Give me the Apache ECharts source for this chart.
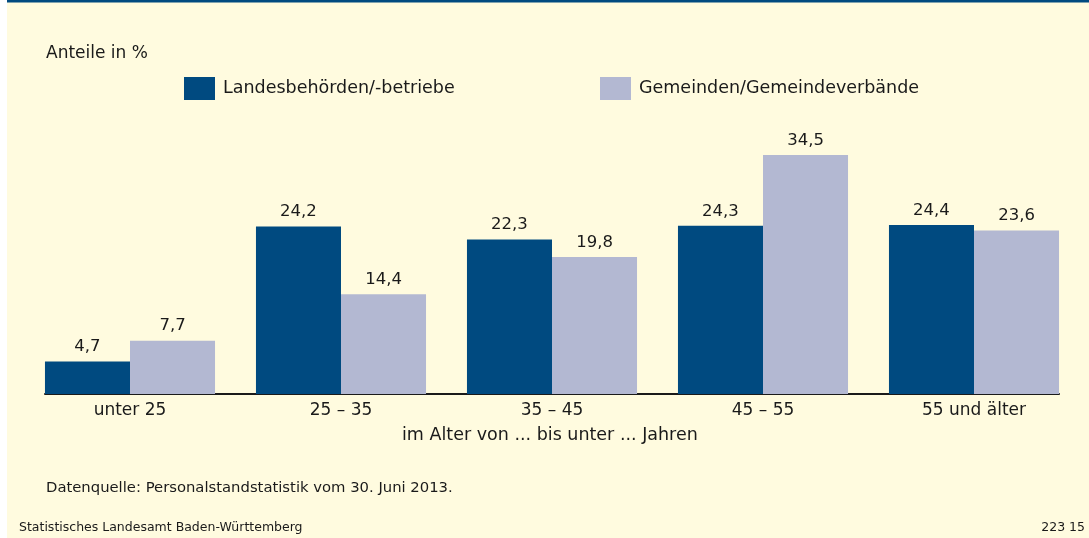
<!DOCTYPE html>
<html>
<head>
<meta charset="utf-8">
<script src="https://cdn.jsdelivr.net/npm/echarts@6/dist/echarts.min.js"></script>
<style>
  html, body { margin: 0; padding: 0; background: #ffffff; }
  #main { width: 1089px; height: 538px; }
</style>
</head>
<body>
<div id="main"></div>
<script>
// Daten
var categories = ['unter 25', '25 – 35', '35 – 45', '45 – 55', '55 und älter'];
var landValues = [4.7, 24.2, 22.3, 24.3, 24.4];
var gemValues = [7.7, 14.4, 19.8, 34.5, 23.6];
var seriesNames = ['Landesbehörden/-betriebe', 'Gemeinden/Gemeindeverbände'];

var fontFamily = '"DejaVu Sans", Verdana, sans-serif';
var textColor = '#1a1a1a';

function fmt(p) { return String(p.value).replace('.', ','); }

var myChart = echarts.init(document.getElementById('main'));
var option = {
  backgroundColor: '#ffffff',
  animation: false,
  graphic: [
    { type: 'rect', left: 7, top: 0, shape: { width: 1082, height: 538 }, style: { fill: '#fffbdf' }, z: -10 },
    { type: 'rect', left: 7, top: 0, shape: { width: 1082, height: 2.5 }, style: { fill: '#004a80' }, z: -9 }
  ],
  title: [
    { text: 'Anteile in %', left: 46, top: 45, padding: 0, textStyle: { fontFamily: fontFamily, fontSize: 17, fontWeight: 'normal', color: textColor } },
    { text: 'im Alter von ... bis unter ... Jahren', left: 402, top: 426, padding: 0, textStyle: { fontFamily: fontFamily, fontSize: 17.5, fontWeight: 'normal', color: textColor } },
    { text: 'Datenquelle: Personalstandstatistik vom 30. Juni 2013.', left: 46, top: 481, padding: 0, textStyle: { fontFamily: fontFamily, fontSize: 14.8, fontWeight: 'normal', color: textColor } },
    { text: 'Statistisches Landesamt Baden-Württemberg', left: 19, top: 521, padding: 0, textStyle: { fontFamily: fontFamily, fontSize: 12.5, fontWeight: 'normal', color: textColor } },
    { text: '223 15', right: 4, top: 521, padding: 0, textStyle: { fontFamily: fontFamily, fontSize: 12.5, fontWeight: 'normal', color: textColor } }
  ],
  legend: [
    {
      data: [seriesNames[0]], left: 184, top: 77, padding: 0, icon: 'rect', itemWidth: 31, itemHeight: 23, itemGap: 8,
      textStyle: { fontFamily: fontFamily, fontSize: 17.5, color: textColor, padding: [0, 0, 0, 3] }
    },
    {
      data: [seriesNames[1]], left: 600, top: 77, padding: 0, icon: 'rect', itemWidth: 31, itemHeight: 23, itemGap: 8,
      textStyle: { fontFamily: fontFamily, fontSize: 17.5, color: textColor, padding: [0, 0, 0, 3] }
    }
  ],
  grid: [
    { left: 24.5, right: 9.5, top: 117, bottom: 144 },
    { left: 45, right: 30, top: 117, bottom: 144 }
  ],
  xAxis: [
    {
      type: 'category', gridIndex: 0, data: categories,
      axisLine: { show: false }, axisTick: { show: false },
      axisLabel: { fontFamily: fontFamily, fontSize: 17, color: textColor, margin: 8 }
    },
    {
      type: 'value', gridIndex: 1, min: 0, max: 1,
      axisLine: { show: true, lineStyle: { color: '#1a1a1a', width: 2 } },
      axisTick: { show: false }, axisLabel: { show: false }, splitLine: { show: false }
    }
  ],
  yAxis: [
    { type: 'value', gridIndex: 0, min: 0, max: 40, show: false },
    { type: 'value', gridIndex: 1, min: 0, max: 1, show: false }
  ],
  series: [
    {
      name: seriesNames[0], type: 'bar', data: landValues, barGap: 0, barCategoryGap: '19.4%',
      itemStyle: { color: '#004a80' },
      label: { show: true, position: 'top', distance: 6, fontFamily: fontFamily, fontSize: 16.5, color: textColor, formatter: fmt }
    },
    {
      name: seriesNames[1], type: 'bar', data: gemValues, barGap: 0, barCategoryGap: '19.4%',
      itemStyle: { color: '#b3b8d2' },
      label: { show: true, position: 'top', distance: 6, fontFamily: fontFamily, fontSize: 16.5, color: textColor, formatter: fmt }
    }
  ]
};
myChart.setOption(option);
</script>
</body>
</html>
